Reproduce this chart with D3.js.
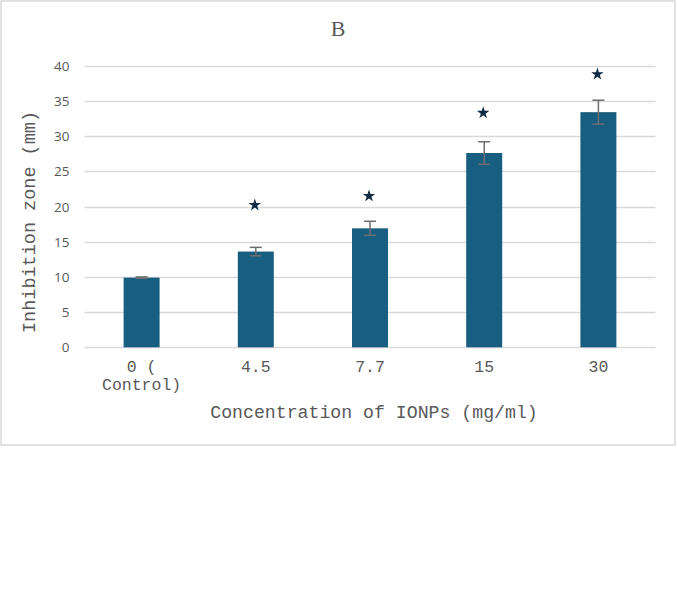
<!DOCTYPE html>
<html>
<head>
<meta charset="utf-8">
<script src="https://cdn.jsdelivr.net/npm/d3@7"></script>
<style>
  html, body { margin: 0; padding: 0; background: #fff; }
  svg { display: block; }
</style>
</head>
<body>
<script>
const categories = ["0 ( Control)", "4.5", "7.7", "15", "30"];
const categoryLines = [["0 (", "Control)"], ["4.5"], ["7.7"], ["15"], ["30"]];
const values = [9.9, 13.6, 16.9, 27.6, 33.4];
const errors = [0.1, 0.6, 1.0, 1.6, 1.7];
const starValues = [null, 20.2, 21.5, 33.3, 38.8];
const yTicks = [0, 5, 10, 15, 20, 25, 30, 35, 40];

const W = 677, H = 597;
const svg = d3.select("body").append("svg").attr("width", W).attr("height", H);

// outer chart border
svg.append("rect").attr("x", 1).attr("y", 1).attr("width", 674).attr("height", 444)
  .attr("fill", "#fff").attr("stroke", "#d9d9d9").attr("stroke-width", 1.5);

const x = d3.scaleBand().domain(categories).range([84.5, 655.5]).paddingInner(0.685).paddingOuter(0.3425);
const y = d3.scaleLinear().domain([0, 40]).range([347.3, 65.7]);

// gridlines
svg.append("g").selectAll("line").data(yTicks).join("line")
  .attr("x1", 84.5).attr("x2", 655.5)
  .attr("y1", d => Math.round(y(d)) + 0.5).attr("y2", d => Math.round(y(d)) + 0.5)
  .attr("stroke", "#d9d9d9").attr("stroke-width", 1.3);

// y tick labels
svg.append("g").selectAll("text").data(yTicks).join("text")
  .attr("x", 69.5).attr("y", d => y(d) + 5)
  .attr("text-anchor", "end")
  .attr("font-family", "'Open Sans', 'DejaVu Sans', sans-serif")
  .attr("font-size", 13.5).attr("fill", "#595959")
  .text(d => d);

// bars
svg.append("g").selectAll("rect").data(values).join("rect")
  .attr("x", (d, i) => x(categories[i]))
  .attr("width", x.bandwidth())
  .attr("y", d => y(d))
  .attr("height", d => y(0) - y(d))
  .attr("fill", "#175e80");

// error bars
const eb = svg.append("g").attr("stroke", "#6e6e6e").attr("stroke-width", 1.5);
values.forEach((v, i) => {
  const cx = x(categories[i]) + x.bandwidth() / 2;
  const y1 = y(v + errors[i]), y2 = y(v - errors[i]);
  eb.append("line").attr("x1", cx).attr("x2", cx).attr("y1", y1).attr("y2", y2);
  eb.append("line").attr("x1", cx - 6).attr("x2", cx + 6).attr("y1", y1).attr("y2", y1);
  eb.append("line").attr("x1", cx - 6).attr("x2", cx + 6).attr("y1", y2).attr("y2", y2);
});

// stars
const star = d3.symbol().type(d3.symbolStar).size(48);
svg.append("g").selectAll("path").data(starValues.map((s, i) => ({ s, i })).filter(d => d.s !== null)).join("path")
  .attr("d", star)
  .attr("transform", d => `translate(${x(categories[d.i]) + x.bandwidth() / 2 - 1},${y(d.s)})`)
  .attr("fill", "#0d2b45");

// x tick labels
const mono = "'Liberation Mono', 'Courier New', monospace";
const xl = svg.append("g");
categoryLines.forEach((lines, i) => {
  const cx = x(categories[i]) + x.bandwidth() / 2;
  lines.forEach((ln, j) => {
    xl.append("text").attr("x", cx).attr("y", 372 + j * 18)
      .attr("text-anchor", "middle").attr("font-family", mono)
      .attr("font-size", 16.5).attr("fill", "#595959").text(ln);
  });
});

// axis titles
svg.append("text").attr("x", 374).attr("y", 418).attr("text-anchor", "middle")
  .attr("font-family", mono).attr("font-size", 18.2).attr("fill", "#595959")
  .text("Concentration of IONPs (mg/ml)");

svg.append("text").attr("transform", "translate(35,222) rotate(-90)").attr("text-anchor", "middle")
  .attr("font-family", mono).attr("font-size", 18.5).attr("fill", "#595959")
  .text("Inhibition zone (mm)");

// title
svg.append("text").attr("x", 338).attr("y", 36).attr("text-anchor", "middle")
  .attr("font-family", "'Liberation Serif', 'DejaVu Serif', serif")
  .attr("font-size", 22).attr("fill", "#595959").text("B");
</script>
</body>
</html>
